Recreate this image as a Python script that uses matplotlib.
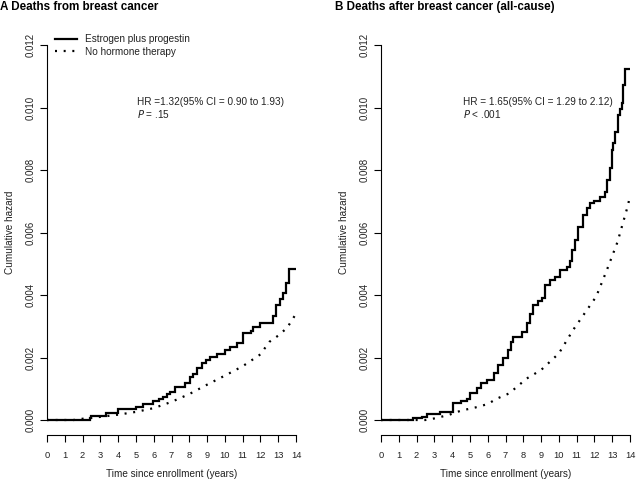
import matplotlib
matplotlib.use("Agg")
import matplotlib.pyplot as plt

plt.rcParams['font.family'] = ['Liberation Sans', 'DejaVu Sans']

# ---------------- data ----------------
# Panel A: deaths from breast cancer
a_ep_t = [0, 2.42, 2.5, 3.3, 4.0, 5.0, 5.4, 5.98, 6.3, 6.54, 6.75, 6.91, 7.2, 7.76, 8.04, 8.2,
          8.41, 8.7, 8.95, 9.16, 9.54, 10.0, 10.29, 10.66, 11.04, 11.45, 11.6, 12.0, 12.7, 12.9,
          13.1, 13.25, 13.43, 13.6, 14.0]
a_ep_v = [0, 0.00007, 0.00014, 0.00021, 0.00034, 0.00043, 0.0005, 0.00062, 0.00068, 0.00075,
          0.00083, 0.00091, 0.00107, 0.00117, 0.00139, 0.00148, 0.00165, 0.00181, 0.00192,
          0.00203, 0.00211, 0.00224, 0.00235, 0.00247, 0.00277, 0.00285, 0.00297, 0.0031,
          0.00334, 0.00369, 0.00387, 0.00406, 0.00438, 0.00483, 0.00483]
a_no_t = [0, 1.5, 2.0, 3.0, 4.0, 5.0, 6.0, 7.0, 8.0, 9.0, 10.0, 11.0, 12.0, 12.5, 13.0, 13.5, 14.0]
a_no_v = [0, 0, 0.00004, 0.0001, 0.00017, 0.00026, 0.00038, 0.00058, 0.00083, 0.00113, 0.00142,
          0.00172, 0.0021, 0.0025, 0.0027, 0.00295, 0.0034]

# Panel B: deaths after breast cancer (all-cause)
b_ep_t = [0, 1.82, 2.3, 2.6, 3.3, 4.03, 4.5, 4.82, 5.0, 5.4, 5.6, 5.96, 6.33, 6.6, 6.87, 7.16,
          7.3, 7.44, 7.91, 8.19, 8.4, 8.56, 8.8, 9.03, 9.22, 9.5, 9.78, 10.06, 10.44, 10.6, 10.72,
          10.9, 11.1, 11.37, 11.56, 11.75, 12.0, 12.3, 12.6, 12.69, 12.87, 12.97, 13.06, 13.15,
          13.34, 13.45, 13.53, 13.62, 13.72, 14.0]
b_ep_v = [0, 0.00005, 0.0001, 0.00018, 0.00027, 0.00055, 0.0006, 0.00068, 0.00087, 0.00101,
          0.00117, 0.00128, 0.00149, 0.00176, 0.00197, 0.00224, 0.0025, 0.00267, 0.00283, 0.0031,
          0.0034, 0.00368, 0.0038, 0.0039, 0.00432, 0.00448, 0.00458, 0.0048, 0.0049, 0.0051,
          0.00544, 0.00576, 0.00619, 0.00656, 0.00677, 0.00695, 0.007, 0.00715, 0.0073, 0.00768,
          0.00805, 0.00864, 0.00885, 0.00923, 0.00976, 0.00995, 0.01013, 0.01072, 0.01122, 0.01122]
b_no_t = [0, 2.5, 3.0, 3.8, 4.5, 5.3, 6.0, 6.5, 7.2, 8.2, 9.0, 10.0, 10.8, 12.1, 12.7, 13.3,
          13.9, 14.0]
b_no_v = [0, 0, 0.00005, 0.00016, 0.0003, 0.0004, 0.00051, 0.00068, 0.00085, 0.00133, 0.0016,
          0.00213, 0.00288, 0.00395, 0.0048, 0.0057, 0.0069, 0.0072]

x_ticks = list(range(0, 15))
y_ticks = [0.0, 0.002, 0.004, 0.006, 0.008, 0.010, 0.012]
y_ticklabels = ["0.000", "0.002", "0.004", "0.006", "0.008", "0.010", "0.012"]

titles = ["A Deaths from breast cancer", "B Deaths after breast cancer (all-cause)"]
hr_text = ["HR =1.32(95% CI = 0.90 to 1.93)", "HR = 1.65(95% CI = 1.29 to 2.12)"]
p_text = [r"$\it{P}$ = .15", r"$\it{P}$ < .001"]
legend_labels = ["Estrogen plus progestin", "No hormone therapy"]

# ---------------- figure ----------------
W, H = 640, 479
fig = plt.figure(figsize=(6.4, 4.79), dpi=100)

panels = [
    (47, (a_ep_t, a_ep_v), (a_no_t, a_no_v)),
    (381, (b_ep_t, b_ep_v), (b_no_t, b_no_v)),
]
title_x = [0, 335]
top_px, bot_px = 30, 435
txt_col = '#222222'

for i, (left_px, ep, no) in enumerate(panels):
    ax = fig.add_axes([left_px / W, 1 - bot_px / H, 249 / W, (bot_px - top_px) / H])
    l1, = ax.plot(ep[0], ep[1], drawstyle='steps-post', color='black', lw=1.6,
                  solid_joinstyle='miter')
    l2, = ax.plot(no[0], no[1], color='black', lw=1.6, linestyle=(0, (0.9, 3.0)))
    ax.set_xlim(0, 14)
    ax.set_ylim(-0.00048, 0.01248)
    ax.spines['top'].set_visible(False)
    ax.spines['right'].set_visible(False)
    ax.spines['left'].set_bounds(0, 0.012)
    ax.spines['bottom'].set_bounds(0, 14)
    for s in ('left', 'bottom'):
        ax.spines[s].set_linewidth(0.8)
    ax.set_xticks(x_ticks)
    ax.set_xticklabels([str(t) for t in x_ticks], fontsize=6.7, color=txt_col)
    ax.set_yticks(y_ticks)
    ax.set_yticklabels(y_ticklabels, fontsize=7, rotation=90, va='center', color=txt_col)
    ax.tick_params(axis='y', length=5, width=0.8, pad=3)
    ax.tick_params(axis='x', length=5, width=0.8, pad=6.5)
    ax.set_xlabel("Time since enrollment (years)", fontsize=7.2, color=txt_col)
    ax.xaxis.set_label_coords(0.5, -0.083)
    ax.set_ylabel("Cumulative hazard", fontsize=7.2, color=txt_col)
    ax.yaxis.set_label_coords(-0.13, 0.5)
    ax.text(0.36 if i == 0 else 0.328, 0.822, hr_text[i], transform=ax.transAxes,
            fontsize=7.2, va='center', ha='left', color=txt_col)
    ax.text(0.36 if i == 0 else 0.328, 0.792, p_text[i], transform=ax.transAxes,
            fontsize=7.2, va='center', ha='left', color=txt_col)
    if i == 0:
        ax.legend([l1, l2], legend_labels, loc='upper left', bbox_to_anchor=(0.032, 0.99),
                  frameon=False, fontsize=7.2, handlelength=2.2, handletextpad=0.8,
                  labelspacing=0.25, borderpad=0, borderaxespad=0, labelcolor=txt_col)
    fig.text(title_x[i] / W, 1 - 7 / H, titles[i], fontsize=8.4, fontweight='bold',
             ha='left', va='center')

fig.savefig("out.png", dpi=100)
